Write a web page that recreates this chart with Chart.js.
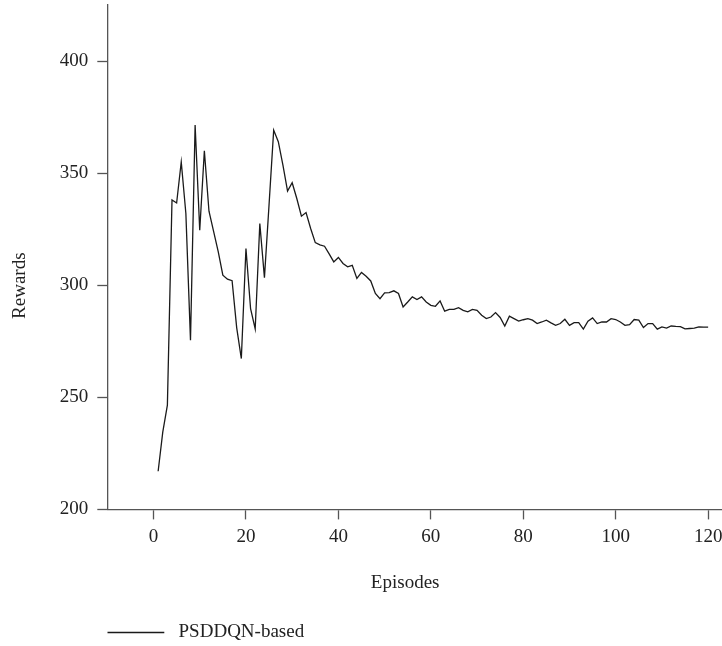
<!DOCTYPE html>
<html>
<head>
<meta charset="utf-8">
<script src="https://cdn.jsdelivr.net/npm/chart.js@4/dist/chart.umd.min.js"></script>
<style>
  html, body { margin: 0; padding: 0; background: #fff; }
  #wrap { width: 722px; height: 646px; }
</style>
</head>
<body>
<div id="wrap"><canvas id="rewardsChart"></canvas></div>
<script>
// episode numbers 1..120
const episodes = Array.from({ length: 120 }, (_, i) => i + 1);

// rewards, one per episode
const psddqnRewards = [
    217.0, 234.5, 246.5, 338.0, 336.7, 355.0, 332.0, 275.5, 371.5, 324.5,
    360.0, 333.0, 324.0, 315.0, 304.5, 302.7, 302.0, 281.0, 267.3, 316.4,
    289.6, 280.5, 327.5, 303.4, 336.0, 369.2, 364.0, 353.6, 342.0, 345.7,
    338.7, 330.8, 332.4, 325.3, 319.0, 318.0, 317.4, 314.0, 310.4, 312.4,
    309.7, 308.2, 308.9, 303.0, 305.7, 304.0, 301.9, 296.3, 294.0, 296.6,
    296.7, 297.5, 296.3, 290.3, 292.5, 294.8, 293.6, 294.8, 292.5, 291.0,
    290.6, 293.0, 288.4, 289.2, 289.2, 290.0, 288.8, 288.1, 289.2, 288.8,
    286.6, 285.1, 285.8, 287.8, 285.6, 281.8, 286.2, 285.1, 284.0, 284.6,
    285.1, 284.4, 282.9, 283.6, 284.4, 283.2, 282.1, 282.9, 284.8, 282.1,
    283.3, 283.3, 280.4, 284.0, 285.4, 282.9, 283.6, 283.6, 285.1, 284.7,
    283.6, 282.1, 282.4, 284.7, 284.4, 281.1, 282.9, 282.9, 280.4, 281.4,
    280.9, 281.8, 281.6, 281.5, 280.5, 280.7, 280.9, 281.4, 281.3, 281.3
];

const xTicks = [0, 20, 40, 60, 80, 100, 120];
const yTicks = [200, 250, 300, 350, 400];

const axisColor = '#555';
const textColor = '#222';
const serif = "'Liberation Serif', 'DejaVu Serif', serif";

const ctx = document.getElementById('rewardsChart').getContext('2d');
new Chart(ctx, {
    type: 'line',
    data: {
        datasets: [{
            label: ' PSDDQN-based',
            data: episodes.map((ep, i) => ({ x: ep, y: psddqnRewards[i] })),
            borderColor: '#1a1a1a',
            backgroundColor: '#1a1a1a',
            borderWidth: 1.3,
            pointRadius: 0,
            tension: 0,
            fill: false
        }]
    },
    options: {
        responsive: true,
        maintainAspectRatio: false,
        animation: false,
        layout: { padding: { left: 0, right: 0, top: 5, bottom: -6 } },
        plugins: {
            tooltip: { enabled: false },
            legend: {
                position: 'bottom',
                align: 'start',
                fullSize: false,
                labels: {
                    usePointStyle: true,
                    pointStyle: 'line',
                    pointStyleWidth: 57,
                    padding: 0,
                    color: textColor,
                    font: { family: serif, size: 19 }
                }
            }
        },
        scales: {
            x: {
                type: 'linear',
                min: -10,
                max: 123,
                afterBuildTicks: (scale) => { scale.ticks = xTicks.map(v => ({ value: v })); },
                afterFit: (scale) => { scale.paddingRight = 0; scale.paddingLeft = 0; },
                ticks: {
                    includeBounds: false,
                    padding: 6,
                    color: textColor,
                    font: { family: serif, size: 19 }
                },
                grid: {
                    drawOnChartArea: false,
                    drawTicks: true,
                    tickLength: 10,
                    tickColor: axisColor,
                    tickWidth: 1.3
                },
                border: { display: true, color: axisColor, width: 1.3 },
                title: {
                    display: true,
                    text: 'Episodes    ',
                    color: textColor,
                    font: { family: serif, size: 19 },
                    padding: { top: 17, bottom: 29 }
                }
            },
            y: {
                type: 'linear',
                min: 200,
                max: 425,
                afterBuildTicks: (scale) => { scale.ticks = yTicks.map(v => ({ value: v })); },
                afterFit: (scale) => { scale.paddingTop = 0; scale.paddingBottom = 0; },
                ticks: {
                    includeBounds: false,
                    padding: 9,
                    color: textColor,
                    font: { family: serif, size: 19 }
                },
                grid: {
                    drawOnChartArea: false,
                    drawTicks: true,
                    tickLength: 10,
                    tickColor: axisColor,
                    tickWidth: 1.3
                },
                border: { display: true, color: axisColor, width: 1.3 },
                title: {
                    display: true,
                    text: 'Rewards            ',
                    color: textColor,
                    font: { family: serif, size: 19 },
                    padding: { top: 9, bottom: 19 }
                }
            }
        }
    }
});
</script>
</body>
</html>
